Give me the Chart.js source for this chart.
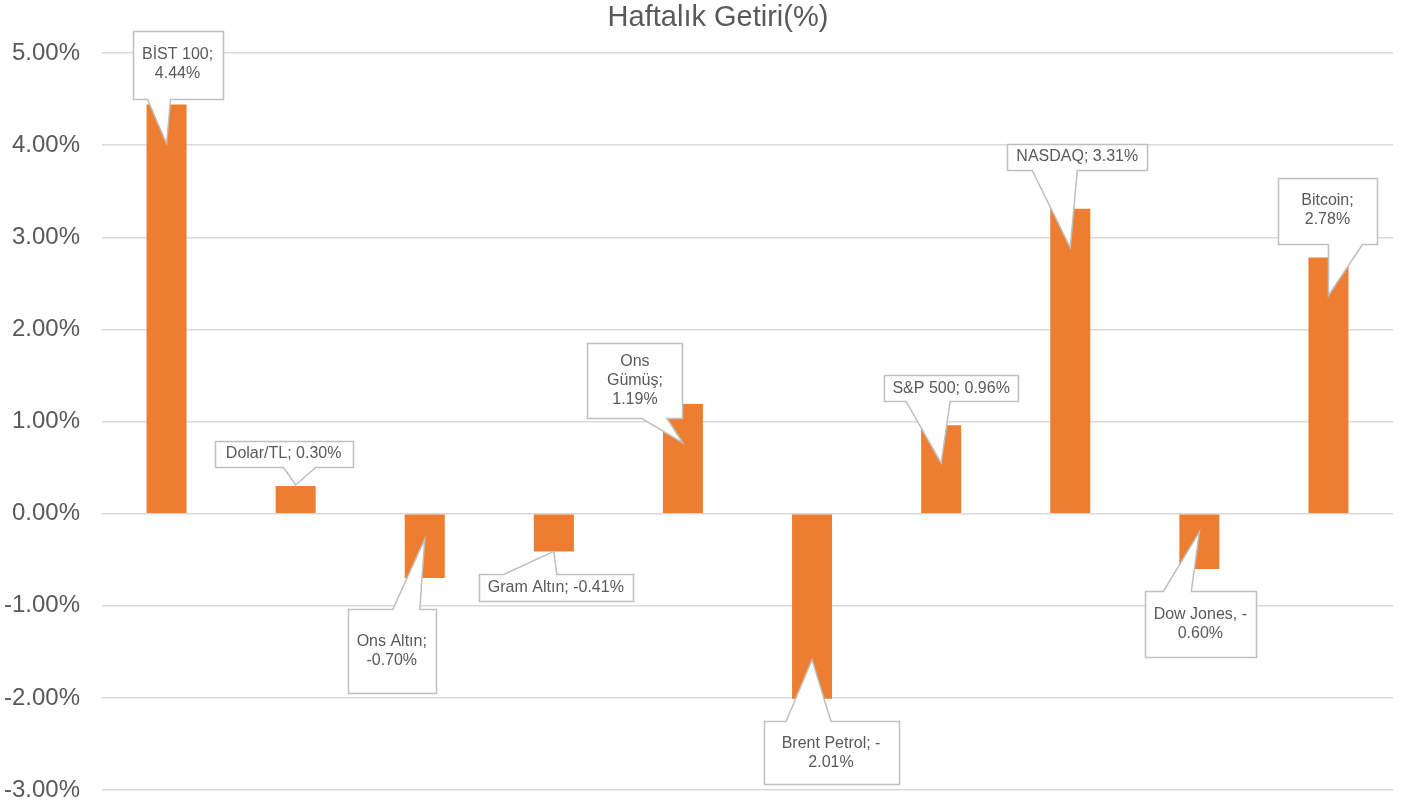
<!DOCTYPE html>
<html>
<head>
<meta charset="utf-8">
<script src="https://cdn.jsdelivr.net/npm/chart.js@4/dist/chart.umd.min.js"></script>
<style>
    html, body { margin: 0; padding: 0; background: #ffffff; }
    #wrap { width: 1402px; height: 807px; }
</style>
</head>
<body>
<div id="wrap"><canvas id="getiri-chart"></canvas></div>
<script>
const chartTitle = "Haftalık Getiri(%)";
const categories = ["BİST 100", "Dolar/TL", "Ons Altın", "Gram Altın", "Ons Gümüş", "Brent Petrol", "S&P 500", "NASDAQ", "Dow Jones", "Bitcoin"];
const weeklyReturn = [4.44, 0.30, -0.70, -0.41, 1.19, -2.01, 0.96, 3.31, -0.60, 2.78];
const calloutText = [
    ["BİST 100;", "4.44%"],
    ["Dolar/TL; 0.30%"],
    ["Ons Altın;", "-0.70%"],
    ["Gram Altın; -0.41%"],
    ["Ons", "Gümüş;", "1.19%"],
    ["Brent Petrol; -", "2.01%"],
    ["S&P 500; 0.96%"],
    ["NASDAQ; 3.31%"],
    ["Dow Jones, -", "0.60%"],
    ["Bitcoin;", "2.78%"],
];

// callout placement relative to the bar end: box centre (dx, dy), box size, tip dy, tail base x range
const calloutLayout = [
    { dx: 11, dy: -40, w: 90, h: 68, tip: 39, base: [-19, 4] },
    { dx: -12, dy: -32, w: 138, h: 26, tip: -1, base: [-12, 20] },
    { dx: -33, dy: 73, w: 88, h: 84, tip: -39, base: [-32, -5] },
    { dx: 2, dy: 36, w: 154, h: 27, tip: 0, base: [-50, 3] },
    { dx: -48, dy: -23, w: 95, h: 75, tip: 39, base: [-41, -16] },
    { dx: 19, dy: 54, w: 135, h: 63, tip: -39, base: [-26, 19] },
    { dx: 10, dy: -37, w: 134, h: 26, tip: 38, base: [-35, 9] },
    { dx: 7, dy: -52, w: 140, h: 26, tip: 39, base: [-38, 7] },
    { dx: 1, dy: 55, w: 111, h: 66, tip: -37, base: [-36, -8] },
    { dx: -1, dy: -47, w: 99, h: 66, tip: 38, base: [0, 34] },
];

const FONT = "'Liberation Sans', Arial, sans-serif";
const TEXT_GREY = "#595959";

// title sits a little left of the plot centre, as in the original sheet
const titlePlugin = {
    id: "sheetTitle",
    afterDraw(chart) {
        const ctx = chart.ctx;
        ctx.save();
        ctx.fillStyle = TEXT_GREY;
        ctx.font = "29px " + FONT;
        ctx.textAlign = "center";
        ctx.textBaseline = "middle";
        ctx.fillText(chartTitle, 718, 18);
        ctx.restore();
    },
};

const calloutPlugin = {
    id: "callouts",
    afterDatasetsDraw(chart) {
        const ctx = chart.ctx;
        const meta = chart.getDatasetMeta(0);
        ctx.save();
        meta.data.forEach((bar, i) => {
            const lay = calloutLayout[i];
            const bx = bar.x, by = bar.y;
            const cx = bx + lay.dx, cy = by + lay.dy;
            const l = Math.round(cx - lay.w / 2) + 0.5, r = l + lay.w;
            const t = Math.round(cy - lay.h / 2) + 0.5, b = t + lay.h;
            const tipX = bx, tipY = by + lay.tip;
            const b1 = bx + lay.base[0], b2 = bx + lay.base[1];

            ctx.beginPath();
            if (tipY > cy) {
                // tail hangs from the bottom edge
                ctx.moveTo(l, t);
                ctx.lineTo(r, t);
                ctx.lineTo(r, b);
                ctx.lineTo(b2, b);
                ctx.lineTo(tipX, tipY);
                ctx.lineTo(b1, b);
                ctx.lineTo(l, b);
            } else {
                // tail rises from the top edge
                ctx.moveTo(l, t);
                ctx.lineTo(b1, t);
                ctx.lineTo(tipX, tipY);
                ctx.lineTo(b2, t);
                ctx.lineTo(r, t);
                ctx.lineTo(r, b);
                ctx.lineTo(l, b);
            }
            ctx.closePath();
            ctx.fillStyle = "#ffffff";
            ctx.fill();
            ctx.strokeStyle = "#bfbfbf";
            ctx.lineWidth = 1.5;
            ctx.stroke();

            const lines = calloutText[i];
            const lh = 19;
            ctx.fillStyle = TEXT_GREY;
            ctx.font = "16px " + FONT;
            ctx.textAlign = "center";
            ctx.textBaseline = "middle";
            const startY = cy - (lines.length - 1) * lh / 2;
            lines.forEach((ln, k) => ctx.fillText(ln, cx, startY + k * lh));
        });
        ctx.restore();
    },
};

new Chart(document.getElementById("getiri-chart"), {
    type: "bar",
    data: {
        labels: categories,
        datasets: [
            {
                label: chartTitle,
                data: weeklyReturn,
                backgroundColor: "#ed7d31",
                borderWidth: 0,
                barPercentage: 0.62,
                categoryPercentage: 0.5,
            },
        ],
    },
    options: {
        responsive: true,
        maintainAspectRatio: false,
        animation: false,
        layout: {
            padding: { left: 0, right: 9, top: 53, bottom: 17 },
        },
        plugins: {
            legend: { display: false },
            tooltip: { enabled: false },
            title: { display: false },
        },
        scales: {
            x: {
                display: false,
            },
            y: {
                min: -3,
                max: 5,
                afterFit: (scale) => {
                    scale.width = 102;
                    scale.paddingTop = 0;
                    scale.paddingBottom = 0;
                },
                border: { display: false },
                grid: {
                    color: "#d9d9d9",
                    lineWidth: 1.5,
                    drawTicks: false,
                },
                ticks: {
                    stepSize: 1,
                    padding: 22,
                    color: TEXT_GREY,
                    font: { family: FONT, size: 24 },
                    callback: (v) => v.toFixed(2) + "%",
                },
            },
        },
    },
    plugins: [calloutPlugin, titlePlugin],
});
</script>
</body>
</html>
